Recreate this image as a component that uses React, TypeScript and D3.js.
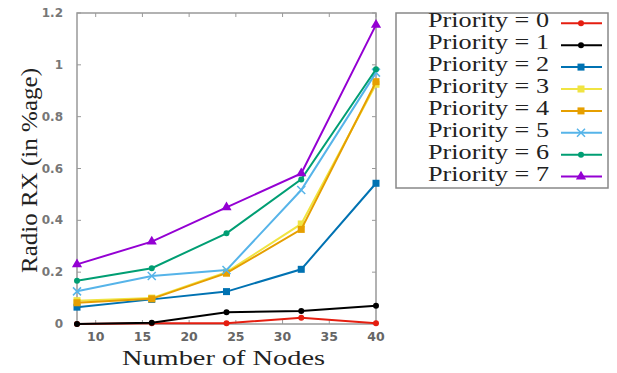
import React, { useEffect, useRef } from "react";
import * as d3 from "d3";

const nodes = [8, 16, 24, 32, 40];
const priorities = ["0", "1", "2", "3", "4", "5", "6", "7"];
const p0 = [0, 0.003, 0.003, 0.024, 0.003];
const p1 = [0, 0.005, 0.045, 0.05, 0.07];
const p2 = [0.065, 0.095, 0.125, 0.211, 0.543];
const p3 = [0.09, 0.1, 0.2, 0.386, 0.925];
const p4 = [0.082, 0.097, 0.196, 0.365, 0.935];
const p5 = [0.126, 0.185, 0.208, 0.517, 0.97];
const p6 = [0.167, 0.215, 0.35, 0.558, 0.983];
const p7 = [0.23, 0.318, 0.45, 0.581, 1.154];
const seriesValues = [p0, p1, p2, p3, p4, p5, p6, p7];
const xTicks = [10, 15, 20, 25, 30, 35, 40];
const yTicks = [0, 0.2, 0.4, 0.6, 0.8, 1, 1.2];

const colors = ["#e51e10", "#000000", "#0072b2", "#f0e442", "#e69f00", "#56b4e9", "#009e73", "#9400d3"];
const markers = ["circle", "circle", "square", "square", "square", "cross", "circle", "triangle"];

export default function App() {
  const svgRef = useRef<SVGSVGElement>(null);

  useEffect(() => {
    if (!svgRef.current) return;
    const svg = d3.select(svgRef.current);
    svg.selectAll("*").remove();

    const left = 77, right = 376, top = 13, bottom = 324;
    const x = d3.scaleLinear().domain([8, 40]).range([left, right]);
    const y = d3.scaleLinear().domain([0, 1.2]).range([bottom, top]);
    const serif = "Liberation Serif, DejaVu Serif, Times New Roman, serif";
    const sans = "DejaVu Sans, sans-serif";

    // frame
    svg.append("rect")
      .attr("x", left).attr("y", top)
      .attr("width", right - left).attr("height", bottom - top)
      .attr("fill", "none").attr("stroke", "#999").attr("stroke-width", 1.5);

    // mirrored inner ticks
    const tk = svg.append("g").attr("stroke", "#999").attr("stroke-width", 1);
    xTicks.forEach((t) => {
      tk.append("line").attr("x1", x(t)).attr("x2", x(t)).attr("y1", bottom).attr("y2", bottom - 4);
      tk.append("line").attr("x1", x(t)).attr("x2", x(t)).attr("y1", top).attr("y2", top + 4);
    });
    yTicks.forEach((t) => {
      tk.append("line").attr("x1", left).attr("x2", left + 4).attr("y1", y(t)).attr("y2", y(t));
      tk.append("line").attr("x1", right).attr("x2", right - 4).attr("y1", y(t)).attr("y2", y(t));
    });

    svg.append("g").selectAll("text").data(yTicks).enter().append("text")
      .attr("x", left - 14).attr("y", (d) => y(d) + 4)
      .attr("text-anchor", "end")
      .attr("font-family", sans)
      .attr("font-size", 12).attr("font-weight", "bold").attr("fill", "#777")
      .text((d) => d3.format("")(d));

    svg.append("g").selectAll("text").data(xTicks).enter().append("text")
      .attr("x", (d) => x(d)).attr("y", bottom + 17)
      .attr("text-anchor", "middle")
      .attr("font-family", sans)
      .attr("font-size", 12.5).attr("font-weight", "bold").attr("fill", "#666")
      .text((d) => String(d));

    svg.append("text")
      .attr("x", 122).attr("y", 365)
      .attr("textLength", 203).attr("lengthAdjust", "spacingAndGlyphs")
      .attr("font-family", serif).attr("font-size", 22).attr("fill", "#222")
      .text("Number of Nodes");

    svg.append("text")
      .attr("transform", `translate(37,273) rotate(-90)`)
      .attr("textLength", 205).attr("lengthAdjust", "spacingAndGlyphs")
      .attr("font-family", serif).attr("font-size", 23).attr("fill", "#222")
      .text("Radio RX (in %age)");

    const line = d3.line<number>().x((d, i) => x(nodes[i])).y((d) => y(d));

    const drawMarker = (g: any, kind: string, cx: number, cy: number, c: string) => {
      if (kind === "circle") {
        g.append("circle").attr("cx", cx).attr("cy", cy).attr("r", 3).attr("fill", c);
      } else if (kind === "square") {
        g.append("rect").attr("x", cx - 3.5).attr("y", cy - 3.5).attr("width", 7).attr("height", 7).attr("fill", c);
      } else if (kind === "triangle") {
        g.append("path").attr("d", d3.symbol(d3.symbolTriangle, 45)()).attr("transform", `translate(${cx},${cy})`).attr("fill", c);
      } else {
        g.append("path").attr("d", `M${cx - 4},${cy - 4}L${cx + 4},${cy + 4}M${cx - 4},${cy + 4}L${cx + 4},${cy - 4}`)
          .attr("stroke", c).attr("stroke-width", 1.5);
      }
    };

    seriesValues.forEach((vals, si) => {
      const g = svg.append("g");
      g.append("path").datum(vals).attr("d", line)
        .attr("fill", "none").attr("stroke", colors[si]).attr("stroke-width", 2);
      vals.forEach((v, i) => drawMarker(g, markers[si], x(nodes[i]), y(v), colors[si]));
    });

    // legend
    svg.append("rect")
      .attr("x", 396).attr("y", 13).attr("width", 212).attr("height", 175)
      .attr("fill", "#fff").attr("stroke", "#888").attr("stroke-width", 1.5);
    priorities.forEach((p, i) => {
      const cy = 23.3 + i * 21.9;
      const g = svg.append("g");
      g.append("text")
        .attr("x", 428).attr("y", cy + 4)
        .attr("textLength", 121).attr("lengthAdjust", "spacingAndGlyphs")
        .attr("font-family", serif).attr("font-size", 21).attr("fill", "#222")
        .text(`Priority = ${p}`);
      g.append("line").attr("x1", 561).attr("x2", 602).attr("y1", cy).attr("y2", cy)
        .attr("stroke", colors[i]).attr("stroke-width", 2);
      drawMarker(g, markers[i], 581, cy, colors[i]);
    });
  }, []);

  return (
    <svg
      ref={svgRef}
      width={617}
      height={373}
      style={{ position: "fixed", left: 0, top: 0, background: "#fff" }}
    />
  );
}
